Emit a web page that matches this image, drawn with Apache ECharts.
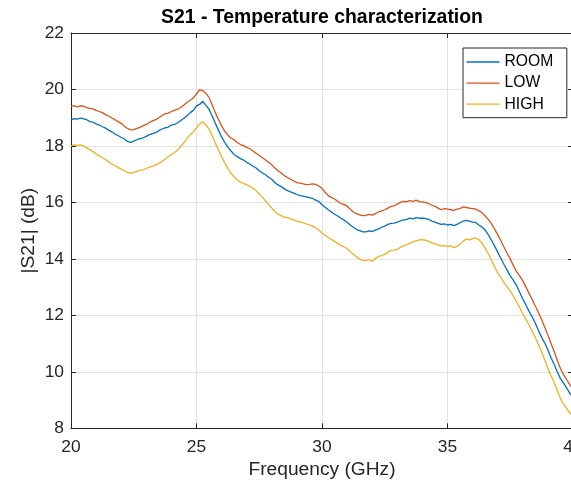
<!DOCTYPE html>
<html>
<head>
<meta charset="utf-8">
<script src="https://cdn.jsdelivr.net/npm/echarts@6/dist/echarts.min.js"></script>
<style>
html,body{margin:0;padding:0;background:#fff;}
#chart{width:571px;height:483px;}
</style>
</head>
<body>
<div id="chart"></div>
<script>
// Frequency grid (GHz)
const freqs = [
 20.000,20.125,20.250,20.375,20.500,20.625,20.750,20.875,21.000,21.125,21.250,21.375,21.500,21.625,21.750,21.875,
 22.000,22.125,22.250,22.375,22.500,22.625,22.750,22.875,23.000,23.125,23.250,23.375,23.500,23.625,23.750,23.875,
 24.000,24.125,24.250,24.375,24.500,24.625,24.750,24.875,25.000,25.125,25.250,25.375,25.500,25.625,25.750,25.875,
 26.000,26.125,26.250,26.375,26.500,26.625,26.750,26.875,27.000,27.125,27.250,27.375,27.500,27.625,27.750,27.875,
 28.000,28.125,28.250,28.375,28.500,28.625,28.750,28.875,29.000,29.125,29.250,29.375,29.500,29.625,29.750,29.875,
 30.000,30.125,30.250,30.375,30.500,30.625,30.750,30.875,31.000,31.125,31.250,31.375,31.500,31.625,31.750,31.875,
 32.000,32.125,32.250,32.375,32.500,32.625,32.750,32.875,33.000,33.125,33.250,33.375,33.500,33.625,33.750,33.875,
 34.000,34.125,34.250,34.375,34.500,34.625,34.750,34.875,35.000,35.125,35.250,35.375,35.500,35.625,35.750,35.875,
 36.000,36.125,36.250,36.375,36.500,36.625,36.750,36.875,37.000,37.125,37.250,37.375,37.500,37.625,37.750,37.875,
 38.000,38.125,38.250,38.375,38.500,38.625,38.750,38.875,39.000,39.125,39.250,39.375,39.500,39.625,39.750,39.875,
 40.000
];
const room = [
 18.92,18.97,18.95,18.99,18.96,18.93,18.86,18.84,18.78,18.74,18.68,18.63,18.56,18.50,18.42,18.37,
 18.30,18.25,18.16,18.13,18.17,18.22,18.26,18.29,18.34,18.40,18.44,18.47,18.54,18.60,18.64,18.67,
 18.74,18.76,18.82,18.90,18.98,19.07,19.18,19.26,19.42,19.47,19.58,19.44,19.30,19.06,18.80,18.56,
 18.32,18.13,17.96,17.82,17.70,17.62,17.55,17.50,17.42,17.36,17.28,17.22,17.12,17.04,16.98,16.89,
 16.82,16.70,16.62,16.56,16.48,16.42,16.37,16.33,16.28,16.24,16.22,16.20,16.17,16.14,16.08,16.03,
 15.92,15.83,15.74,15.66,15.58,15.52,15.44,15.38,15.30,15.20,15.12,15.04,15.00,14.96,14.96,14.99,
 14.97,15.02,15.06,15.12,15.16,15.22,15.26,15.27,15.30,15.35,15.38,15.40,15.44,15.42,15.46,15.44,
 15.44,15.43,15.40,15.34,15.30,15.26,15.22,15.24,15.20,15.22,15.18,15.22,15.28,15.34,15.36,15.34,
 15.30,15.29,15.20,15.13,15.02,14.86,14.66,14.46,14.24,14.02,13.80,13.60,13.40,13.24,13.06,12.82,
 12.58,12.37,12.14,11.94,11.72,11.46,11.22,11.02,10.78,10.50,10.26,10.00,9.76,9.60,9.42,9.24,
 9.10
];
const low = [
 19.40,19.43,19.38,19.42,19.41,19.36,19.33,19.31,19.26,19.22,19.18,19.11,19.06,18.99,18.93,18.86,
 18.80,18.70,18.62,18.57,18.58,18.62,18.66,18.72,18.76,18.83,18.89,18.93,19.00,19.08,19.14,19.16,
 19.22,19.26,19.30,19.36,19.45,19.55,19.62,19.70,19.84,19.99,19.96,19.86,19.72,19.45,19.18,18.94,
 18.72,18.52,18.38,18.28,18.22,18.12,18.05,18.01,17.95,17.90,17.82,17.74,17.66,17.58,17.50,17.42,
 17.33,17.22,17.12,17.04,16.95,16.88,16.82,16.76,16.70,16.68,16.66,16.63,16.64,16.66,16.64,16.58,
 16.50,16.36,16.24,16.18,16.12,16.04,15.96,15.93,15.87,15.76,15.66,15.60,15.56,15.53,15.54,15.58,
 15.55,15.60,15.66,15.70,15.74,15.80,15.86,15.88,15.94,16.00,16.04,16.03,16.06,16.04,16.08,16.03,
 16.02,16.00,15.96,15.90,15.86,15.80,15.74,15.78,15.76,15.74,15.72,15.76,15.78,15.84,15.82,15.80,
 15.78,15.76,15.70,15.64,15.52,15.40,15.25,15.06,14.86,14.64,14.42,14.20,14.00,13.76,13.55,13.40,
 13.22,13.00,12.78,12.56,12.32,12.10,11.85,11.58,11.30,11.00,10.72,10.40,10.12,9.90,9.72,9.55,
 9.40
];
const high = [
 18.00,18.04,18.02,18.04,18.00,17.93,17.86,17.80,17.72,17.65,17.58,17.52,17.44,17.36,17.30,17.24,
 17.18,17.12,17.06,17.03,17.06,17.10,17.14,17.15,17.20,17.25,17.28,17.33,17.38,17.45,17.54,17.62,
 17.70,17.77,17.86,17.98,18.12,18.27,18.40,18.50,18.64,18.78,18.86,18.74,18.60,18.36,18.10,17.86,
 17.62,17.40,17.20,17.04,16.90,16.80,16.72,16.67,16.62,16.57,16.50,16.41,16.30,16.18,16.06,15.92,
 15.80,15.67,15.58,15.53,15.48,15.46,15.42,15.38,15.34,15.31,15.28,15.24,15.20,15.16,15.10,15.02,
 14.92,14.84,14.76,14.69,14.62,14.55,14.48,14.43,14.36,14.26,14.16,14.07,14.00,13.95,13.94,13.97,
 13.92,14.02,14.08,14.12,14.16,14.24,14.30,14.31,14.34,14.41,14.46,14.50,14.56,14.60,14.64,14.67,
 14.68,14.66,14.62,14.57,14.54,14.49,14.46,14.47,14.44,14.46,14.40,14.44,14.52,14.63,14.70,14.67,
 14.72,14.74,14.68,14.56,14.38,14.18,13.96,13.72,13.50,13.34,13.16,13.02,12.86,12.68,12.48,12.28,
 12.06,11.86,11.66,11.44,11.22,10.96,10.70,10.42,10.12,9.86,9.62,9.34,9.06,8.86,8.70,8.54,
 8.42
];
const seriesNames = ['ROOM','LOW','HIGH'];
const seriesColors = ['#0072BD','#D95319','#EDB120'];
const seriesValues = [room, low, high];
const xTicks = {min:20, max:40, interval:5};
const yTicks = {min:8, max:22, interval:2};

const FONT = '"Liberation Sans", Arial, Helvetica, sans-serif';
const AX = '#262626';

const chart = echarts.init(document.getElementById('chart'), null, {renderer:'canvas'});
const axisLineStyle = {show:true, lineStyle:{color:AX, width:1}};
const tickStyle = {show:true, inside:true, length:5, lineStyle:{color:AX, width:1}};

const option = {
  backgroundColor:'#ffffff',
  animation:false,
  grid:{left:71, right:-2, top:33, bottom:54.7, containLabel:false, outerBoundsMode:'none'},
  legend:{
    data:seriesNames,
    orient:'vertical',
    left:463, top:48,
    padding:[6,13.5,5.5,3.5],
    icon:'rect',
    itemWidth:33, itemHeight:1.3, itemGap:5.1, itemTextGap:3,
    backgroundColor:'#ffffff',
    borderColor:AX, borderWidth:1,
    textStyle:{fontFamily:FONT, fontSize:15.7, lineHeight:15.7, color:'#000'}
  },
  xAxis:[{
    type:'value', position:'bottom',
    min:xTicks.min, max:xTicks.max, interval:xTicks.interval,
    name:'Frequency (GHz)', nameLocation:'middle', nameGap:31,
    nameTextStyle:{fontFamily:FONT, fontSize:19.2, color:AX},
    axisLine:axisLineStyle, axisTick:tickStyle,
    axisLabel:{fontFamily:FONT, fontSize:17.4, color:AX, margin:10.5},
    splitLine:{show:true, lineStyle:{color:'#e3e3e3', width:1}}
  },{
    type:'value', position:'top',
    min:xTicks.min, max:xTicks.max, interval:xTicks.interval,
    name:'S21 - Temperature characterization', nameLocation:'middle', nameGap:6,
    nameTextStyle:{fontFamily:FONT, fontSize:19.4, fontWeight:'bold', color:'#000'},
    axisLine:axisLineStyle, axisTick:tickStyle,
    axisLabel:{show:false}, splitLine:{show:false}
  }],
  yAxis:[{
    type:'value', position:'left',
    min:yTicks.min, max:yTicks.max, interval:yTicks.interval,
    name:'|S21| (dB)', nameLocation:'middle', nameGap:33, nameMoveOverlap:false,
    nameTextStyle:{fontFamily:FONT, fontSize:19.2, color:AX},
    axisLine:axisLineStyle, axisTick:tickStyle,
    axisLabel:{fontFamily:FONT, fontSize:17.4, color:AX, margin:7},
    splitLine:{show:true, lineStyle:{color:'#e3e3e3', width:1}}
  },{
    type:'value', position:'right',
    min:yTicks.min, max:yTicks.max, interval:yTicks.interval,
    axisLine:axisLineStyle, axisTick:tickStyle,
    axisLabel:{show:false}, splitLine:{show:false}
  }],
  series: seriesNames.map((n,i)=>({
    name:n, type:'line', xAxisIndex:0, yAxisIndex:0,
    data: freqs.map((f,k)=>[f, seriesValues[i][k]]),
    symbol:'none', smooth:false,
    lineStyle:{color:seriesColors[i], width:1.3},
    itemStyle:{color:seriesColors[i]}
  }))
};
chart.setOption(option);
</script>
</body>
</html>
